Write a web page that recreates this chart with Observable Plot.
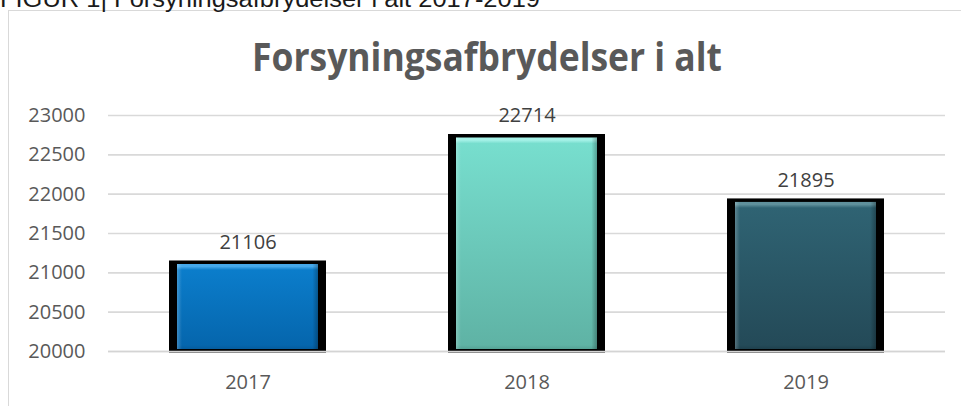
<!DOCTYPE html>
<html>
<head>
<meta charset="utf-8">
<script src="https://cdn.jsdelivr.net/npm/d3@7"></script>
<script src="https://cdn.jsdelivr.net/npm/@observablehq/plot@0.6"></script>
<style>
  html, body { margin: 0; padding: 0; background: #fff; }
  #page { position: relative; width: 961px; height: 406px; overflow: hidden; background: #fff; }
  #frame { position: absolute; left: 7.5px; top: 10px; width: 1000px; height: 500px;
           border-left: 1.5px solid #d9d9d9; border-top: 1px solid #d9d9d9; }
  #header { position: absolute; left: 0; top: 0; }
  #chart { position: absolute; left: 0; top: 90px; }
</style>
</head>
<body>
<div id="page">
  <div id="frame"></div>
  <svg id="header" width="961" height="90">
    <text x="0" y="7" font-family="Liberation Sans, Arial, sans-serif" font-size="23" fill="#1a1a1a" textLength="540" lengthAdjust="spacingAndGlyphs">FIGUR 1| Forsyningsafbrydelser i alt 2017-2019</text>
    <text x="487" y="71" text-anchor="middle" font-family="Open Sans, sans-serif" font-weight="bold" font-size="39" fill="#595959" textLength="470" lengthAdjust="spacingAndGlyphs">Forsyningsafbrydelser i alt</text>
  </svg>
  <div id="chart"></div>
</div>
<script>
// ---- data ----
const years = ["2017", "2018", "2019"];
const values = [21106, 22714, 21895];
const yTicks = [20000, 20500, 21000, 21500, 22000, 22500, 23000];
const yMin = 20000;
const yMax = 23000;

// ---- styling (not data) ----
const palettes = {
  "2017": {hi: "#45a9ec", top: "#0b7dcb", bottom: "#0566ad", low: "#055896"},
  "2018": {hi: "#a6f2e8", top: "#77dece", bottom: "#5fb3a5", low: "#519a8e"},
  "2019": {hi: "#5f909c", top: "#2f6373", bottom: "#244a58", low: "#1c3c48"}
};

const data = years.map((year, i) => ({year, value: values[i]}));

const chart = Plot.plot({
  width: 961,
  height: 316,
  marginLeft: 108,
  marginRight: 16,
  marginTop: 25,
  marginBottom: 55,
  style: {background: "transparent", fontFamily: "Open Sans, sans-serif", fontSize: "20px", color: "#595959", overflow: "visible"},
  x: {domain: years, paddingInner: 0.437, paddingOuter: 0.2185, label: null},
  y: {domain: [yMin, yMax], label: null},
  color: {type: "identity"},
  marks: [
    Plot.ruleY(yTicks, {stroke: "#d9d9d9", strokeWidth: 1.6}),
    Plot.axisY(yTicks, {tickSize: 0, tickPadding: 23, fontSize: 20, fill: "#595959", label: null, tickFormat: d => String(d)}),
    Plot.axisX({tickSize: 0, tickPadding: 23, fontSize: 20, fill: "#595959", label: null}),
    // black shadow frame behind each bar
    Plot.barY(data, {x: "year", y1: () => yMin, y2: "value", fill: "#000", insetTop: -3.5, insetBottom: -1.5}),
    // coloured bevelled face
    Plot.barY(data, {x: "year", y1: () => yMin, y2: "value", fill: d => `url(#g${d.year})`, insetLeft: 8, insetRight: 8, insetBottom: 2}),
    Plot.barY(data, {x: "year", y1: () => yMin, y2: "value", fill: "url(#bevelH)", insetLeft: 8, insetRight: 8, insetBottom: 2}),
    Plot.ruleY([yMin], {stroke: "#d4d4d4", strokeWidth: 1.6}),
    Plot.text(data, {x: "year", y: "value", text: d => String(d.value), dy: -22, fontSize: 20, fill: "#404040"})
  ]
});

document.getElementById("chart").appendChild(chart);

// gradients, positioned with the chart's own y scale
const y = chart.scale("y");
const svg = d3.select(chart);
const defs = svg.insert("defs", ":first-child");
const y0 = y.apply(yMin);
data.forEach(d => {
  const p = palettes[d.year];
  const y1 = y.apply(d.value);
  const h = y0 - y1;
  const g = defs.append("linearGradient")
    .attr("id", "g" + d.year)
    .attr("gradientUnits", "userSpaceOnUse")
    .attr("x1", 0).attr("x2", 0).attr("y1", y1).attr("y2", y0);
  const stops = [
    [0, p.hi], [2.5 / h, p.hi], [6 / h, p.top], [1 - 6 / h, p.bottom], [1, p.low]
  ];
  stops.forEach(([o, c]) => g.append("stop").attr("offset", o).attr("stop-color", c));
});
const bh = defs.append("linearGradient").attr("id", "bevelH").attr("x1", 0).attr("x2", 1).attr("y1", 0).attr("y2", 0);
[[0, "rgba(255,255,255,0.22)"], [0.035, "rgba(255,255,255,0)"], [0.96, "rgba(0,0,0,0)"], [1, "rgba(0,0,0,0.28)"]]
  .forEach(([o, c]) => {
    const m = c.match(/rgba\((\d+),(\d+),(\d+),([\d.]+)\)/);
    bh.append("stop").attr("offset", o).attr("stop-color", `rgb(${m[1]},${m[2]},${m[3]})`).attr("stop-opacity", m[4]);
  });
</script>
</body>
</html>
